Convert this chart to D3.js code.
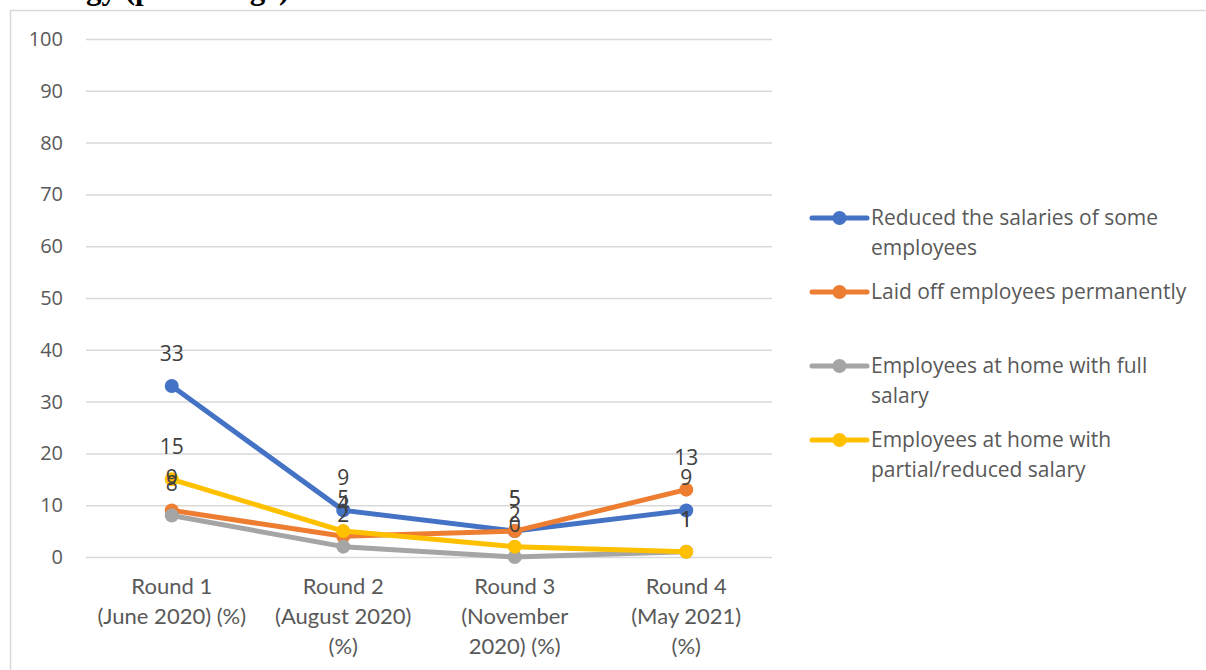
<!DOCTYPE html>
<html>
<head>
<meta charset="utf-8">
<script src="https://cdn.jsdelivr.net/npm/d3@7"></script>
<style>
  html, body { margin: 0; padding: 0; background: #ffffff; overflow: hidden; }
  svg { display: block; }
</style>
</head>
<body>
<svg id="chart" width="1206" height="670"></svg>
<script>
// Survey rounds (x categories), split into the lines they are printed on
const categories = [
  ["Round 1", "(June 2020) (%)"],
  ["Round 2", "(August 2020)", "(%)"],
  ["Round 3", "(November", "2020) (%)"],
  ["Round 4", "(May 2021)", "(%)"]
];

// Share of firms per strategy, one array per series
const reducedSalaries   = [33, 9, 5, 9];
const laidOff           = [9, 4, 5, 13];
const homeFullSalary    = [8, 2, 0, 1];
const homePartialSalary = [15, 5, 2, 1];

const seriesNames = [
  ["Reduced the salaries of some", "employees"],
  ["Laid off employees permanently"],
  ["Employees at home with full", "salary"],
  ["Employees at home with", "partial/reduced salary"]
];
const seriesColors = ["#4472C4", "#ED7D31", "#A5A5A5", "#FFC000"];

const yTicks = [0, 10, 20, 30, 40, 50, 60, 70, 80, 90, 100];

const series = [reducedSalaries, laidOff, homeFullSalary, homePartialSalary].map((values, i) => ({
  name: seriesNames[i],
  color: seriesColors[i],
  values
}));

const svg = d3.select("#chart");
const font = "'Open Sans', 'Noto Sans', sans-serif";

// Caption running above the chart frame (mostly outside the view)
svg.append("text")
  .attr("x", 86)
  .attr("y", -1)
  .attr("font-family", "'Liberation Serif', 'DejaVu Serif', serif")
  .attr("font-weight", "bold")
  .attr("font-size", 31)
  .attr("fill", "#000")
  .text("gy (percentage)");

// Chart frame
svg.append("rect")
  .attr("x", 10.5).attr("y", 10.5)
  .attr("width", 1220).attr("height", 700)
  .attr("fill", "none")
  .attr("stroke", "#d9d9d9")
  .attr("stroke-width", 1.5);

const plot = { left: 86, right: 772, top: 39, bottom: 557 };

const x = d3.scaleBand()
  .domain(d3.range(categories.length))
  .range([plot.left, plot.right]);

const y = d3.scaleLinear()
  .domain([0, 100])
  .range([plot.bottom, plot.top]);

const cx = i => x(i) + x.bandwidth() / 2;

// Horizontal gridlines with value labels
const yAxis = d3.axisLeft(y)
  .tickValues(yTicks)
  .tickSize(-(plot.right - plot.left))
  .tickPadding(23);

const gy = svg.append("g")
  .attr("transform", `translate(${plot.left},0)`)
  .call(yAxis);
gy.select(".domain").remove();
gy.selectAll(".tick line")
  .attr("stroke", "#d9d9d9")
  .attr("stroke-width", 1.5);
gy.selectAll(".tick text")
  .attr("font-family", font)
  .attr("font-size", 20)
  .attr("fill", "#595959");

// Category labels under the plot
const xAxis = d3.axisBottom(x).tickSize(0).tickFormat("");
const gx = svg.append("g")
  .attr("transform", `translate(0,${plot.bottom})`)
  .call(xAxis);
gx.select(".domain").remove();
gx.selectAll(".tick").each(function(d) {
  const t = d3.select(this).append("text")
    .attr("text-anchor", "middle")
    .attr("font-family", "Lato, 'Open Sans', sans-serif")
    .attr("font-size", 22)
    .attr("fill", "#595959");
  categories[d].forEach((line, k) => {
    t.append("tspan").attr("x", 0).attr("y", 37 + k * 30).text(line);
  });
});

// Lines and markers
const line = d3.line()
  .x((d, i) => cx(i))
  .y(d => y(d));

const gs = svg.append("g").selectAll("g")
  .data(series)
  .join("g");

gs.append("path")
  .attr("d", d => line(d.values))
  .attr("fill", "none")
  .attr("stroke", d => d.color)
  .attr("stroke-width", 5)
  .attr("stroke-linejoin", "round")
  .attr("stroke-linecap", "round");

gs.selectAll("circle")
  .data(d => d.values.map((v, i) => ({ v, i, color: d.color })))
  .join("circle")
  .attr("cx", d => cx(d.i))
  .attr("cy", d => y(d.v))
  .attr("r", 7)
  .attr("fill", d => d.color);

// Value labels above each point
const labels = svg.append("g");
series.forEach(s => {
  labels.selectAll(null)
    .data(s.values.map((v, i) => ({ v, i })))
    .join("text")
    .attr("x", d => cx(d.i))
    .attr("y", d => y(d.v) - 25)
    .attr("text-anchor", "middle")
    .attr("font-family", font)
    .attr("font-size", 21)
    .attr("fill", "#404040")
    .text(d => d.v);
});

// Legend
const legendRowY = [218, 292, 366, 440];
const lg = svg.append("g").selectAll("g")
  .data(series)
  .join("g")
  .attr("transform", (d, i) => `translate(812,${legendRowY[i]})`);

lg.append("line")
  .attr("x1", 0).attr("x2", 55)
  .attr("y1", 0).attr("y2", 0)
  .attr("stroke", d => d.color)
  .attr("stroke-width", 5)
  .attr("stroke-linecap", "round");

lg.append("circle")
  .attr("cx", 27.5).attr("cy", 0).attr("r", 7)
  .attr("fill", d => d.color);

lg.append("text")
  .attr("font-family", font)
  .attr("font-size", 21)
  .attr("fill", "#595959")
  .each(function(d) {
    const t = d3.select(this);
    d.name.forEach((ln, k) => {
      t.append("tspan").attr("x", 59).attr("y", 7 + k * 30).text(ln);
    });
  });
</script>
</body>
</html>
